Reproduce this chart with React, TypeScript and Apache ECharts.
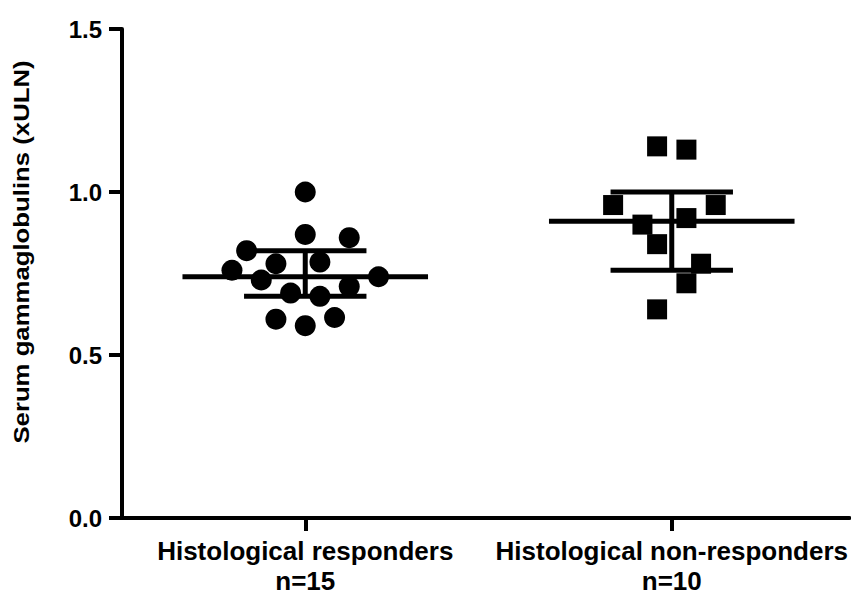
import React, { useEffect, useRef } from "react";
import * as echarts from "echarts";

// Group labels
const groupNames = ["Histological responders", "Histological non-responders"];
const groupCounts = ["n=15", "n=10"];
const yTicks = [0, 0.5, 1.0, 1.5];

// Serum gammaglobulins (xULN), individual patients
const respondersValues = [1.0, 0.87, 0.86, 0.82, 0.78, 0.785, 0.76, 0.74, 0.73, 0.71, 0.69, 0.68, 0.61, 0.615, 0.59];
const respondersJitter = [0, 0, 0.12, -0.16, -0.08, 0.04, -0.2, 0.2, -0.12, 0.12, -0.04, 0.04, -0.08, 0.08, 0];
const nonRespondersValues = [1.14, 1.13, 0.96, 0.96, 0.9, 0.92, 0.84, 0.78, 0.72, 0.64];
const nonRespondersJitter = [-0.04, 0.04, -0.16, 0.12, -0.08, 0.04, -0.04, 0.08, 0.04, -0.04];

// Median with interquartile range per group
const medians = [0.74, 0.91];
const q1s = [0.68, 0.76];
const q3s = [0.82, 1.0];

const FONT = '"Liberation Sans", Arial, Helvetica, sans-serif';

export default function App() {
  const ref = useRef<HTMLDivElement>(null);
  useEffect(() => {
    if (!ref.current) return;
    const chart = echarts.init(ref.current, undefined, { renderer: "svg" });

    const respData = respondersValues.map((v, i) => [0 + respondersJitter[i], v]);
    const nonRespData = nonRespondersValues.map((v, i) => [1 + nonRespondersJitter[i], v]);
    const summary = medians.map((m, i) => [i, m, q1s[i], q3s[i]]);

    const MEDIAN_HALF = 0.335;
    const CAP_HALF = 0.167;

    chart.setOption({
      animation: false,
      backgroundColor: "#ffffff",
      grid: { left: 122, right: 0, top: 29, bottom: 79, containLabel: false },
      xAxis: {
        type: "value",
        min: -0.5,
        max: 1.485,
        splitLine: { show: false },
        axisLine: { show: true, onZero: false, lineStyle: { color: "#000", width: 4 } },
        axisTick: { show: true, customValues: [0, 1], length: 13, lineStyle: { color: "#000", width: 4 } },
        axisLabel: {
          customValues: [0, 1],
          margin: 18,
          color: "#000",
          fontFamily: FONT,
          fontWeight: "bold",
          fontSize: 26,
          lineHeight: 30,
          formatter: (v: number) => {
            const i = Math.round(v);
            return groupNames[i] + "\n" + groupCounts[i];
          },
        },
      },
      yAxis: {
        type: "value",
        min: 0,
        max: 1.5,
        interval: 0.5,
        splitLine: { show: false },
        axisLine: { show: true, onZero: false, lineStyle: { color: "#000", width: 4 } },
        axisTick: { show: true, length: 13, lineStyle: { color: "#000", width: 4 } },
        axisLabel: {
          margin: 20,
          color: "#000",
          fontFamily: FONT,
          fontWeight: "bold",
          fontSize: 24,
          customValues: yTicks,
          formatter: (v: number) => v.toFixed(1),
        },
      },
      graphic: [
        {
          type: "text",
          x: 21,
          y: 252,
          rotation: Math.PI / 2,
          scaleX: 1.17,
          style: {
            text: "Serum gammaglobulins (xULN)",
            fill: "#000",
            font: `bold 22px ${FONT}`,
            align: "center",
            verticalAlign: "middle",
          },
        },
      ],
      series: [
        {
          type: "custom",
          clip: false,
          z: 2,
          data: summary,
          renderItem: (_params: any, api: any) => {
            const x = api.value(0);
            const med = api.value(1);
            const q1 = api.value(2);
            const q3 = api.value(3);
            const mL = api.coord([x - MEDIAN_HALF, med]);
            const mR = api.coord([x + MEDIAN_HALF, med]);
            const cL1 = api.coord([x - CAP_HALF, q1]);
            const cR1 = api.coord([x + CAP_HALF, q1]);
            const cL3 = api.coord([x - CAP_HALF, q3]);
            const cR3 = api.coord([x + CAP_HALF, q3]);
            const v1 = api.coord([x, q1]);
            const v3 = api.coord([x, q3]);
            const st = { stroke: "#000", lineWidth: 5 };
            return {
              type: "group",
              children: [
                { type: "line", shape: { x1: mL[0], y1: mL[1], x2: mR[0], y2: mR[1] }, style: st },
                { type: "line", shape: { x1: v1[0], y1: v1[1], x2: v3[0], y2: v3[1] }, style: st },
                { type: "line", shape: { x1: cL1[0], y1: cL1[1], x2: cR1[0], y2: cR1[1] }, style: st },
                { type: "line", shape: { x1: cL3[0], y1: cL3[1], x2: cR3[0], y2: cR3[1] }, style: st },
              ],
            };
          },
        },
        {
          type: "scatter",
          name: groupNames[0],
          symbol: "circle",
          symbolSize: 21,
          z: 3,
          itemStyle: { color: "#000", opacity: 1 },
          data: respData,
        },
        {
          type: "scatter",
          name: groupNames[1],
          symbol: "rect",
          symbolSize: 20,
          z: 3,
          itemStyle: { color: "#000", opacity: 1 },
          data: nonRespData,
        },
      ],
    });
    return () => chart.dispose();
  }, []);
  return <div ref={ref} style={{ position: "absolute", left: 0, top: 0, width: 851, height: 597 }} />;
}
